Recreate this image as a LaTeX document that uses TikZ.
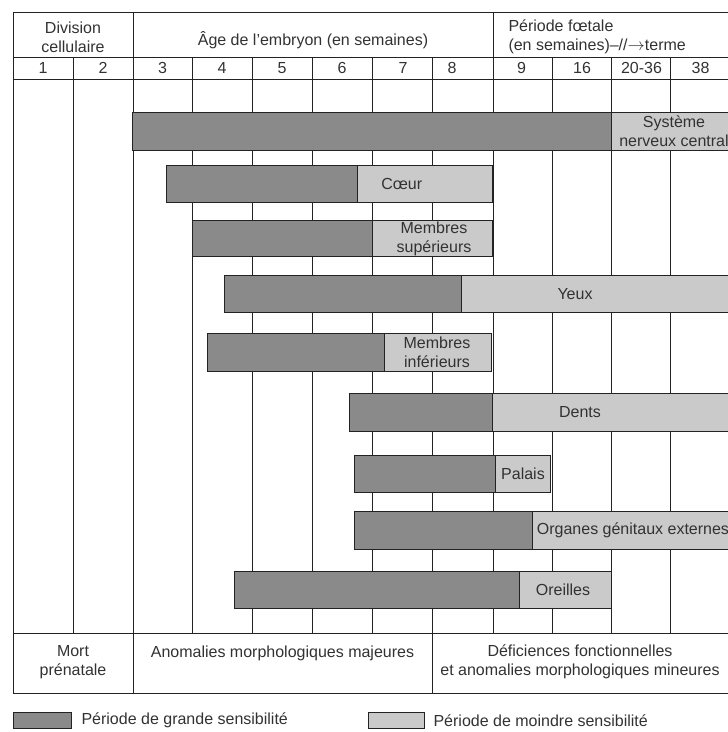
\documentclass[tikz,border=0pt]{standalone}
\usepackage{fontspec}
\setmainfont{Liberation Sans}
\usetikzlibrary{positioning}
\definecolor{grille}{RGB}{35,35,35}
\definecolor{grande}{RGB}{138,138,138}
\definecolor{moindre}{RGB}{202,202,202}
\definecolor{encre}{RGB}{50,50,50}

\begin{document}
\begin{tikzpicture}[x=1pt,y=-1pt,
    trait/.style={draw=grille,line width=0.8pt},
    grandebar/.style={draw=grille,line width=0.7pt,fill=grande},
    moindrebar/.style={draw=grille,line width=0.7pt,fill=moindre},
    txt/.style={inner sep=0pt,align=center,text=encre,
      font=\fontsize{16}{18.7}\selectfont}]
  \useasboundingbox (0,0) rectangle (728,732);
  % cadre et grille
  \draw[trait] (730,12) -- (13,12) -- (13,693) -- (730,693);
  \foreach \y in {57.7,79,633} \draw[trait] (13,\y) -- (730,\y);
  \foreach \x in {73,192,252,312,372,552,611,670} \draw[trait] (\x,57.7) -- (\x,633);
  \draw[trait] (133,12) -- (133,693);
  \draw[trait] (493,12) -- (493,633);
  \draw[trait] (432,57.7) -- (432,693);
  % en-tete
  \node[txt] (division) at (73,37.3) {Division\\cellulaire};
  \node[txt] (age) at (313,40) {Âge de l'embryon (en semaines)};
  \node[txt,align=left,anchor=west] (foetale) at (508.3,37)
    {Période fœtale\\(en semaines)–//$\rightarrow$terme};
  \foreach \t/\x in {1/43,2/103,3/162.5,4/222,5/282,6/342,7/403,8/452,
      9/521.5,16/582,20-36/641.5,38/700.5}
    \node[txt] (sem\t) at (\x,68.3) {\t};
  % barres : debut, limite, fin, haut, bas
  \foreach \a/\b/\c/\h/\l in {132.3/611.7/740/112/150, 166/357/492.3/165/202.3,
      192.3/372.3/492.3/220.7/256.7, 224/461/740/275.7/312.3,
      207.3/384.3/491/333.3/371.7, 349.3/492.7/740/393.3/431,
      354.3/495.7/550.5/455/492.7, 354.3/532.3/740/511.7/549.3,
      234/519.3/611/571/608}{
    \draw[grandebar] (\a,\h) rectangle (\b,\l);
    \draw[moindrebar] (\b,\h) rectangle (\c,\l);
  }
  \node[txt] (snc) at (674,131) {Système\\nerveux central};
  \node[txt] (coeur) at (401.7,183.6) {Cœur};
  \node[txt] (msup) at (434,238.7) {Membres\\supérieurs};
  \node[txt] (yeux) at (575,294) {Yeux};
  \node[txt] (minf) at (437,352.5) {Membres\\inférieurs};
  \node[txt] (dents) at (580,412.2) {Dents};
  \node[txt] (palais) at (523,473.8) {Palais};
  \node[txt,anchor=west] (oge) at (536.7,530.5) {Organes génitaux externes};
  \node[txt] (oreilles) at (563,589.5) {Oreilles};
  % consequences
  \node[txt] (mort) at (73,662.3) {Mort\\prénatale};
  \node[txt] (majeures) at (282.5,653) {Anomalies morphologiques majeures};
  \node[txt] (mineures) at (580,662) {Déficiences fonctionnelles\\et anomalies morphologiques mineures};
  % legende
  \node[grandebar,minimum width=58pt,minimum height=16pt,inner sep=0pt] (lega) at (42,720.5) {};
  \node[txt,anchor=west,right=10pt of lega] (legatxt) {Période de grande sensibilité};
  \node[moindrebar,minimum width=56pt,minimum height=16pt,inner sep=0pt] (legb) at (396,720.5) {};
  \node[txt,anchor=west,right=9pt of legb] (legbtxt) {Période de moindre sensibilité};
\end{tikzpicture}
\end{document}
